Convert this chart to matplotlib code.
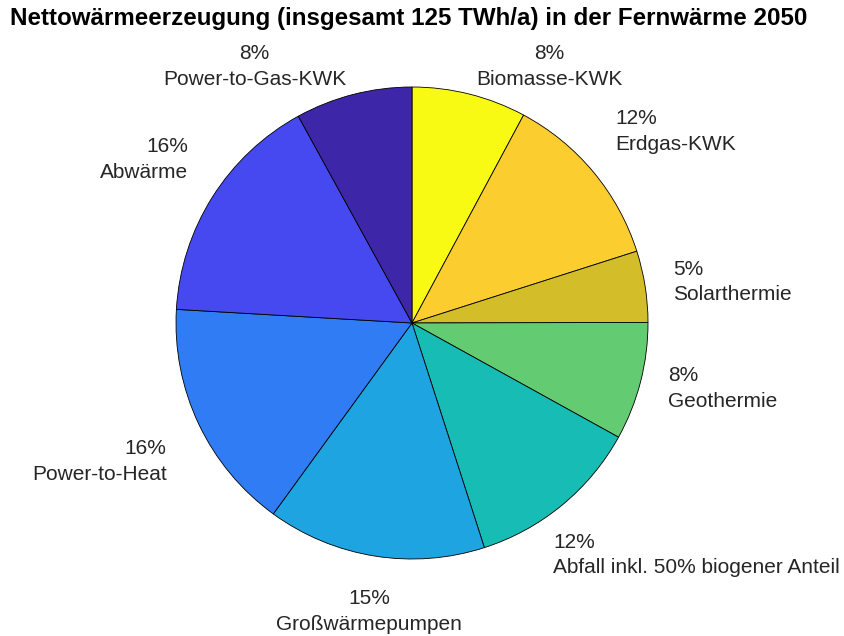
import numpy as np
import matplotlib
matplotlib.use('Agg')
from matplotlib import pyplot as plt
from matplotlib import font_manager

# Nettowärmeerzeugung Fernwärme 2050, TWh/a (total 125)
sources = ['Biomasse-KWK', 'Erdgas-KWK', 'Solarthermie', 'Geothermie',
           'Abfall inkl. 50% biogener Anteil', 'Großwärmepumpen',
           'Power-to-Heat', 'Abwärme', 'Power-to-Gas-KWK']
twh = [9.8, 15.3, 6.1, 10.1, 15.0, 18.7, 19.9, 20.1, 10.0]
colors = ['#f9fa14', '#fbcd2f', '#d3be2a', '#63cb71', '#17bdb4',
          '#1ea4e0', '#2f7cf5', '#4649f0', '#3e26a8']
title = 'Nettowärmeerzeugung (insgesamt 125 TWh/a) in der Fernwärme 2050'

W, H = 844, 636
cx, cy, R = 412, 323, 236   # pie centre and radius in pixels


def have_font(name):
    try:
        font_manager.findfont(font_manager.FontProperties(family=name),
                              fallback_to_default=False)
        return True
    except ValueError:
        return False


label_font = 'Liberation Sans'
title_font = 'Liberation Sans Narrow' if have_font('Liberation Sans Narrow') else 'Liberation Sans'

fig = plt.figure(figsize=(W / 100, H / 100), dpi=100)
ax = fig.add_axes([0, 0, 1, 1])

wedges, _ = ax.pie(twh, colors=colors, startangle=90, counterclock=False,
                   radius=1, wedgeprops=dict(edgecolor='black', linewidth=0.6))
ax.set_aspect('auto')
ax.set_xlim(-cx / R, (W - cx) / R)
ax.set_ylim(-(H - cy) / R, cy / R)
ax.axis('off')

total = sum(twh)
texts = []
for w, name, v in zip(wedges, sources, twh):
    ang = np.deg2rad((w.theta1 + w.theta2) / 2)
    c, s = np.cos(ang), np.sin(ang)
    ha = 'center' if abs(c) < 0.2 else ('left' if c > 0 else 'right')
    va = 'bottom' if s > 0.4 else ('top' if s < -0.4 else 'center')
    ma = 'center' if abs(c) < 0.3 else ha
    r = 1.12 if s > -0.4 else 1.15
    t = ax.text(r * c, r * s, '{:.0f}%\n{}'.format(v / total * 100, name),
                ha=ha, va=va, multialignment=ma, fontsize=15,
                family=label_font, color='#262626', linespacing=1.45)
    texts.append(t)

fig.canvas.draw()
renderer = fig.canvas.get_renderer()

# keep labels inside the figure and below the title, like matlab does
top_limit = H - 44
for t in texts:
    bb = t.get_window_extent(renderer)
    dx = min(0, W - 4 - bb.x1)
    dy = min(0, top_limit - bb.y1)
    if bb.y0 + dy < 2:
        dy = 2 - bb.y0
    px, py = ax.transData.transform(t.get_position())
    t.set_position(ax.transData.inverted().transform((px + dx, py + dy)))

tt = fig.text(409 / W, 1 - 19 / H, title, ha='center', va='center',
              fontweight='bold', fontsize=17, family=title_font, color='black')
fig.canvas.draw()
tw = tt.get_window_extent(renderer).width
tt.set_fontsize(17 * 798 / tw)

fig.savefig('out.png', dpi=100, facecolor='white')
